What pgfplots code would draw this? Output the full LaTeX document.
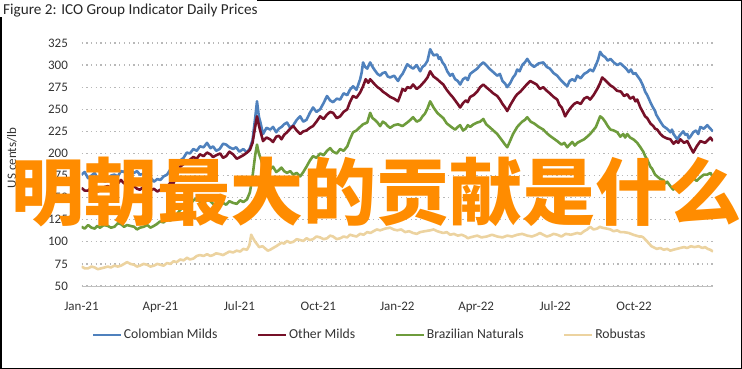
\documentclass[border=0pt]{standalone}
\usepackage{pgfplots}
\pgfplotsset{compat=1.18}
\usepackage{pgfplotstable}
\usepackage{fontspec}
\setmainfont{Carlito}
\newfontfamily\cjk{Noto Sans CJK SC}
\definecolor{cmblue}{RGB}{79,129,189}
\definecolor{omred}{RGB}{118,16,40}
\definecolor{bngreen}{RGB}{110,156,60}
\definecolor{robtan}{RGB}{236,211,160}
\definecolor{cnorange}{RGB}{255,140,0}

\pgfplotstableread{
m v
0 176
0.12 179
0.25 172
0.38 175
0.5 178
0.62 171
0.75 174
0.88 168
1.0 170
1.12 175
1.25 176
1.38 174
1.5 180
1.62 179
1.73 184
1.86 180
2.0 178
2.11 180
2.22 176
2.36 177
2.5 172
2.62 173
2.75 168
2.88 171
3.0 170
3.12 174
3.25 176
3.38 182
3.5 180
3.62 184
3.75 192
3.88 195
4.0 201
4.12 200
4.25 205
4.38 203
4.5 208
4.64 207
4.77 212
4.9 206
5.0 208
5.12 203
5.25 205
5.38 211
5.5 210
5.62 207
5.76 205
5.88 207
6.0 202
6.15 205
6.29 201
6.4 206
6.5 215
6.6 240
6.67 259
6.74 242
6.8 235
6.9 222
7.03 229
7.17 227
7.28 230
7.4 224
7.5 228
7.6 230
7.7 233
7.81 235
7.93 229
8.05 232
8.18 238
8.31 242
8.43 236
8.55 238
8.68 246
8.8 252
8.93 247
9.07 250
9.2 257
9.33 265
9.45 260
9.56 258
9.7 262
9.83 261
9.96 268
10.1 266
10.2 272
10.32 276
10.45 272
10.59 284
10.65 292
10.7 303
10.78 298
10.86 296
10.92 300
10.97 303
11.06 298
11.15 294
11.25 290
11.35 288
11.45 291
11.55 292
11.64 287
11.73 286
11.88 288
12.03 282
12.12 287
12.2 290
12.3 296
12.38 301
12.5 298
12.6 296
12.74 300
12.87 293
12.96 298
13.05 300
13.15 305
13.25 318
13.38 311
13.52 312
13.58 307
13.63 309
13.72 303
13.8 300
13.9 293
14.01 288
14.1 290
14.2 284
14.3 282
14.39 278
14.5 284
14.6 286
14.68 283
14.77 290
14.9 293
15.04 296
15.15 300
15.27 303
15.38 300
15.5 296
15.65 292
15.8 288
15.9 290
16.0 282
16.1 279
16.18 275
16.3 280
16.4 286
16.48 289
16.56 295
16.65 293
16.75 300
16.85 303
16.94 307
17.07 301
17.2 298
17.38 302
17.55 303
17.68 298
17.8 296
17.94 291
18.08 288
18.16 285
18.25 282
18.35 279
18.46 276
18.55 282
18.65 284
18.75 282
18.84 288
18.97 285
19.1 290
19.22 292
19.33 295
19.44 293
19.55 300
19.63 306
19.71 315
19.8 311
19.9 309
20.0 305
20.1 307
20.23 303
20.36 300
20.48 302
20.59 299
20.7 296
20.8 292
20.88 295
20.97 290
21.05 291
21.12 288
21.24 283
21.35 276
21.42 270
21.5 266
21.56 262
21.62 258
21.72 252
21.8 248
21.84 244
21.88 242
22.0 236
22.11 231
22.25 228
22.38 224
22.44 227
22.5 222
22.57 219
22.64 216
22.75 221
22.87 225
22.95 221
23.02 222
23.08 217
23.14 219
23.25 224
23.35 226
23.44 222
23.52 230
23.65 228
23.78 232
23.9 228
24.0 225
}\colombian

\pgfplotstableread{
m v
0 161
0.12 158
0.25 158
0.38 162
0.5 162
0.62 157
0.75 159
0.88 162
1.0 163
1.12 161
1.25 165
1.38 166
1.5 170
1.62 166
1.73 167
1.86 164
2.0 163
2.11 160
2.22 159
2.36 162
2.5 161
2.62 158
2.75 160
2.88 157
3.0 159
3.12 161
3.25 162
3.38 167
3.48 165
3.62 176
3.75 185
3.88 188
4.01 190
4.12 193
4.25 196
4.38 194
4.5 199
4.64 197
4.77 201
4.9 199
5.0 196
5.12 198
5.27 200
5.38 195
5.5 197
5.62 202
5.76 199
5.9 194
6.03 196
6.15 198
6.29 201
6.4 204
6.5 212
6.6 230
6.67 242
6.74 232
6.8 225
6.9 214
7.03 218
7.17 216
7.28 213
7.4 219
7.5 220
7.6 216
7.7 221
7.81 224
7.93 228
8.05 231
8.18 226
8.31 222
8.43 225
8.55 226
8.68 229
8.8 231
8.93 236
9.07 242
9.2 239
9.33 244
9.45 247
9.56 246
9.7 240
9.83 242
9.96 247
10.1 250
10.2 258
10.32 265
10.45 263
10.59 269
10.7 276
10.8 284
10.9 280
10.97 284
11.06 281
11.15 278
11.25 275
11.35 273
11.45 270
11.55 268
11.64 266
11.73 264
11.88 262
12.03 259
12.12 266
12.2 273
12.3 271
12.38 275
12.5 274
12.6 278
12.74 273
12.87 276
12.96 279
13.05 282
13.15 286
13.25 293
13.38 287
13.52 284
13.63 281
13.75 278
13.88 272
14.01 267
14.1 264
14.2 260
14.3 256
14.39 252
14.5 257
14.6 260
14.68 258
14.77 264
14.9 266
15.04 270
15.15 275
15.27 278
15.38 275
15.5 272
15.65 268
15.8 265
15.9 261
16.0 256
16.1 252
16.18 248
16.3 255
16.4 260
16.48 264
16.56 267
16.68 270
16.8 274
16.92 278
17.05 282
17.18 280
17.3 278
17.42 273
17.55 275
17.68 271
17.8 268
17.94 264
18.08 261
18.16 255
18.25 252
18.32 247
18.38 242
18.5 248
18.6 252
18.72 256
18.84 258
18.97 256
19.1 262
19.22 264
19.33 261
19.46 266
19.6 273
19.7 279
19.79 286
19.9 283
20.0 280
20.1 277
20.21 275
20.35 271
20.5 270
20.62 265
20.74 267
20.85 262
20.97 264
21.05 259
21.12 261
21.24 252
21.35 246
21.42 242
21.5 240
21.62 234
21.73 231
21.8 228
21.88 227
22.0 222
22.11 219
22.25 217
22.38 216
22.5 211
22.6 214
22.68 212
22.76 216
22.9 212
23.02 214
23.14 207
23.25 201
23.38 208
23.52 214
23.7 212
23.9 218
24.0 214
}\othermilds

\pgfplotstableread{
m v
0 117
0.12 115
0.25 119
0.38 116
0.5 115
0.6 118
0.7 116
0.85 119
1.0 118
1.12 116
1.25 117
1.38 121
1.5 120
1.62 117
1.73 119
1.86 118
2.0 117
2.11 114
2.22 116
2.36 117
2.5 119
2.62 116
2.75 118
2.86 120
2.98 123
3.12 122
3.25 126
3.38 124
3.48 128
3.62 131
3.75 136
3.88 140
4.01 144
4.12 142
4.25 147
4.38 149
4.5 145
4.64 143
4.77 148
4.9 146
5.0 143
5.12 141
5.27 146
5.38 144
5.5 142
5.62 146
5.76 144
5.9 143
6.03 147
6.15 145
6.29 148
6.4 156
6.5 174
6.6 198
6.67 210
6.74 200
6.8 195
6.9 186
7.03 184
7.17 182
7.28 185
7.4 179
7.5 181
7.6 184
7.7 180
7.81 178
7.93 180
8.05 176
8.18 178
8.31 174
8.43 179
8.55 185
8.68 192
8.8 197
8.93 195
9.07 200
9.2 198
9.33 203
9.45 206
9.56 202
9.7 200
9.83 205
9.96 203
10.1 208
10.2 216
10.32 224
10.45 226
10.59 230
10.7 233
10.86 235
10.92 241
10.97 246
11.06 240
11.15 238
11.25 235
11.35 231
11.45 236
11.55 234
11.64 231
11.73 229
11.88 232
12.03 233
12.2 231
12.38 235
12.5 238
12.6 241
12.74 236
12.87 238
12.96 242
13.05 245
13.15 251
13.25 259
13.38 252
13.52 246
13.63 243
13.75 240
13.88 234
14.01 231
14.1 229
14.2 227
14.3 230
14.39 232
14.5 226
14.6 228
14.68 232
14.77 230
14.9 233
15.04 235
15.15 236
15.27 239
15.38 233
15.5 230
15.65 226
15.8 222
15.9 218
16.0 214
16.1 210
16.18 207
16.3 215
16.4 222
16.48 226
16.56 230
16.65 233
16.75 236
16.85 238
16.94 241
17.07 236
17.2 234
17.38 230
17.55 227
17.68 223
17.8 220
17.94 217
18.08 214
18.16 212
18.25 210
18.35 212
18.46 207
18.55 210
18.65 213
18.75 209
18.84 212
18.97 214
19.1 216
19.22 219
19.33 222
19.44 226
19.55 230
19.63 236
19.71 242
19.8 240
19.9 236
20.0 231
20.1 227
20.23 226
20.36 224
20.48 219
20.59 222
20.66 218
20.74 222
20.85 218
20.97 216
21.05 214
21.12 212
21.24 207
21.35 202
21.42 197
21.5 193
21.56 189
21.62 185
21.68 183
21.73 180
21.8 176
21.88 174
22.0 171
22.11 170
22.18 166
22.26 168
22.38 163
22.49 159
22.56 162
22.64 161
22.75 165
22.87 167
22.95 164
23.02 168
23.14 171
23.25 172
23.38 169
23.52 173
23.65 176
23.78 176
23.9 178
24.0 173
}\brazilian

\pgfplotstableread{
m v
0 72
0.12 70
0.25 70
0.38 72
0.5 71
0.62 69
0.75 70
0.88 71
1.0 72
1.12 71
1.25 73
1.38 72
1.5 73
1.62 75
1.73 77
1.86 75
2.0 74
2.11 72
2.22 73
2.36 75
2.5 74
2.62 72
2.75 73
2.88 75
3.0 74
3.12 73
3.25 76
3.38 75
3.5 78
3.62 77
3.75 80
3.88 79
4.01 82
4.12 80
4.25 81
4.38 84
4.5 85
4.64 84
4.77 86
4.9 84
5.0 85
5.12 87
5.27 86
5.38 85
5.5 87
5.62 89
5.76 88
5.9 90
6.03 89
6.15 92
6.29 91
6.38 96
6.45 108
6.52 104
6.6 100
6.68 97
6.75 94
6.88 95
7.0 92
7.08 90
7.17 91
7.28 93
7.4 95
7.5 97
7.6 99
7.7 98
7.81 101
7.93 99
8.05 100
8.18 103
8.31 102
8.43 101
8.55 104
8.68 102
8.8 103
8.93 106
9.07 105
9.2 103
9.33 104
9.45 107
9.56 106
9.7 103
9.83 104
9.96 106
10.1 105
10.2 108
10.32 107
10.45 106
10.59 109
10.72 108
10.86 111
10.98 110
11.1 112
11.22 114
11.35 113
11.55 115
11.73 116
11.86 114
12.0 113
12.15 114
12.3 111
12.45 112
12.6 110
12.74 109
12.87 111
13.05 112
13.25 113
13.38 114
13.52 112
13.63 111
13.75 110
13.88 111
14.01 108
14.15 109
14.3 107
14.45 108
14.6 106
14.68 104
14.77 105
14.9 106
15.04 107
15.2 105
15.4 106
15.6 108
15.8 106
16.0 105
16.18 107
16.36 106
16.56 108
16.75 109
16.94 107
17.12 106
17.3 108
17.42 110
17.55 108
17.68 106
17.8 107
17.94 109
18.08 108
18.24 106
18.4 109
18.6 108
18.84 110
18.97 109
19.1 112
19.22 114
19.33 117
19.46 114
19.6 115
19.7 117
19.79 116
19.95 115
20.1 114
20.22 112
20.36 113
20.48 111
20.6 111
20.8 110
20.97 108
21.08 107
21.2 106
21.28 106
21.35 105
21.48 101
21.6 97
21.66 95
21.73 94
21.86 92
22.0 93
22.13 91
22.26 92
22.38 90
22.49 91
22.62 92
22.75 93
22.9 94
23.02 93
23.16 95
23.3 94
23.45 95
23.6 93
23.7 94
23.8 92
23.9 91
24.0 89
}\robustas

\begin{document}
\begin{tikzpicture}
\useasboundingbox (0,0) rectangle (742bp,369bp);
\begin{axis}[
  at={(81.5bp,83bp)}, anchor=south west,
  width=631.5bp, height=243bp, scale only axis,
  xmin=0, xmax=24, ymin=50, ymax=325,
  ytick={50,75,...,325},
  xtick={0,3,...,21},
  xticklabels={Jan-21,Apr-21,Jul-21,Oct-21,Jan-22,Apr-22,Jul-22,Oct-22},
  /pgf/number format/assume math mode=true,
  axis lines=left,
  x axis line style={-, draw=black!25, line width=1bp},
  y axis line style={draw=none},
  tick style={draw=none},
  ymajorgrids,
  grid style={draw=black!28, line width=1.2bp, dash pattern=on 1.3bp off 3.4bp},
  tick label style={font=\fontsize{13bp}{15bp}\selectfont, text=black!80},
  yticklabel style={xshift=-8bp},
  xticklabel style={yshift=-10bp},
  legend columns=4,
  legend style={at={(axis description cs:0.456,-0.2016)}, anchor=center,
    draw=none, fill=none, font=\fontsize{13.7bp}{15bp}\selectfont, text=black!80,
    nodes={inner xsep=1.5bp},
    /tikz/every even column/.append style={column sep=38bp}},
  legend image code/.code={\draw[#1, line width=2.6bp] (0bp,0bp) -- (28bp,0bp);},
  every axis plot/.append style={line width=2.6bp, line join=round},
]
\addplot[cmblue] table[x=m,y=v]{\colombian};
\addlegendentry{Colombian Milds}
\addplot[omred] table[x=m,y=v]{\othermilds};
\addlegendentry{Other Milds}
\addplot[bngreen] table[x=m,y=v]{\brazilian};
\addlegendentry{Brazilian Naturals}
\addplot[robtan] table[x=m,y=v]{\robustas};
\addlegendentry{Robustas}
\end{axis}
\draw[black, line width=1.5bp] (257bp,368.25bp) -- (741.25bp,368.25bp) -- (741.25bp,0.75bp) -- (0.75bp,0.75bp) -- (0.75bp,352bp);
\node[anchor=base west, inner sep=0, font=\fontsize{15.2bp}{17bp}\selectfont, text=black!85] at (3bp,354bp) {Figure 2: ICO Group Indicator Daily Prices};
\node[rotate=90, anchor=base, inner sep=0, font=\fontsize{13bp}{15bp}\selectfont, text=black!80] at (16bp,211bp) {US cents/lb};
\node[anchor=base west, inner sep=0, text=cnorange] at (11bp,149.5bp) {\cjk\bfseries\fontsize{73bp}{80bp}\selectfont 明朝最大的贡献是什么};
\end{tikzpicture}
\end{document}
